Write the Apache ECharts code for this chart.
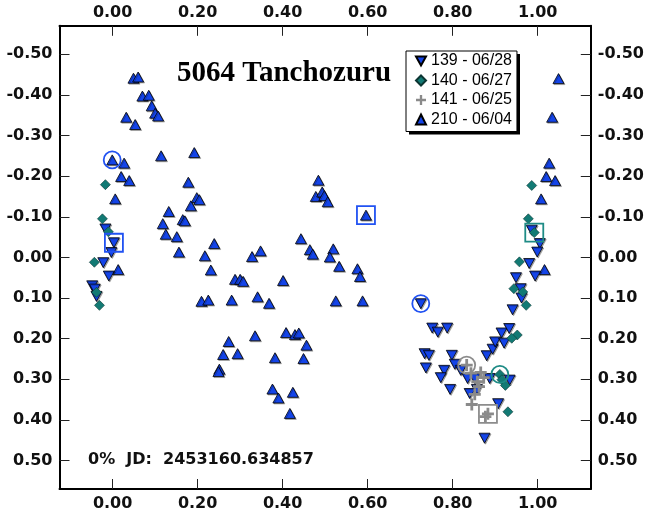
<!DOCTYPE html>
<html>
<head>
<meta charset="utf-8">
<script src="https://cdn.jsdelivr.net/npm/echarts@6/dist/echarts.min.js"></script>
<style>
  html, body { margin: 0; padding: 0; background: #ffffff; }
  #chart { width: 658px; height: 518px; }
</style>
</head>
<body>
<div id="chart"></div>
<script>
// Axis ticks (phase on x, relative magnitude on y, brighter upward)
const phaseTicks = [0.0, 0.2, 0.4, 0.6, 0.8, 1.0];
const magTicks = [-0.5, -0.4, -0.3, -0.2, -0.1, 0.0, 0.1, 0.2, 0.3, 0.4, 0.5];

// Session labels (observation session - date)
const sessionNames = ['139 - 06/28', '140 - 06/27', '141 - 06/25', '210 - 06/04'];

// Session 139 (06/28): [phase, magnitude]
const obs139 = [
  [-0.017, -0.070], [0.003, -0.036], [-0.003, -0.012], [-0.022, 0.013],
  [-0.009, 0.046], [-0.048, 0.070], [-0.042, 0.078], [-0.038, 0.096],
  [0.725, 0.114], [0.752, 0.174], [0.765, 0.184], [0.787, 0.174],
  [0.734, 0.237], [0.744, 0.241], [0.737, 0.272], [0.798, 0.241],
  [0.780, 0.278], [0.772, 0.296], [0.794, 0.325], [0.805, 0.263],
  [0.819, 0.278], [0.835, 0.298], [0.852, 0.298], [0.840, 0.335],
  [0.857, 0.325], [0.880, 0.242], [0.894, 0.226], [0.900, 0.208],
  [0.915, 0.186], [0.921, 0.211], [0.933, 0.175], [0.887, 0.298],
  [0.934, 0.302], [0.907, 0.360], [0.875, 0.445], [0.941, 0.129],
  [0.949, 0.050], [0.960, 0.077], [0.962, 0.100], [0.980, 0.015],
  [0.994, 0.046], [0.986, -0.067], [1.005, -0.034], [0.999, -0.013]
];

// Session 140 (06/27)
const obs140 = [
  [-0.017, -0.179], [-0.024, -0.095], [-0.010, -0.063], [-0.043, 0.012],
  [-0.038, 0.086], [-0.031, 0.118], [0.986, -0.177], [0.978, -0.095],
  [0.992, -0.061], [0.957, 0.011], [0.944, 0.077], [0.965, 0.085],
  [0.973, 0.118], [0.952, 0.191], [0.939, 0.199], [0.911, 0.288],
  [0.916, 0.301], [0.924, 0.315], [0.930, 0.380]
];

// Session 141 (06/25)
const obs141 = [
  [0.833, 0.265], [0.843, 0.285], [0.866, 0.283], [0.873, 0.296],
  [0.858, 0.306], [0.862, 0.318], [0.852, 0.337], [0.845, 0.362],
  [0.883, 0.385], [0.877, 0.392]
];

// Session 210 (06/04)
const obs210 = [
  [0.049, -0.441], [0.060, -0.444], [0.070, -0.397], [0.085, -0.399],
  [0.092, -0.373], [0.100, -0.355], [0.107, -0.348], [0.032, -0.345],
  [0.053, -0.327], [-0.001, -0.240], [0.027, -0.232], [0.020, -0.199],
  [0.039, -0.189], [0.006, -0.144], [0.114, -0.250], [0.192, -0.258],
  [0.178, -0.185], [0.198, -0.147], [0.204, -0.142], [0.184, -0.127],
  [0.132, -0.113], [0.118, -0.083], [0.125, -0.057], [0.151, -0.051],
  [0.165, -0.093], [0.170, -0.090], [0.156, -0.013], [0.239, -0.034],
  [0.217, -0.004], [0.328, -0.002], [0.348, -0.016], [0.443, -0.046],
  [0.464, -0.019], [0.471, -0.008], [0.484, -0.190], [0.478, -0.150],
  [0.493, -0.161], [0.498, -0.152], [0.506, -0.137], [0.596, -0.104],
  [0.519, -0.021], [0.511, -0.001], [0.533, 0.022], [0.576, 0.028],
  [0.582, 0.047], [0.013, 0.030], [0.231, 0.031], [0.288, 0.054],
  [0.300, 0.054], [0.307, 0.059], [0.401, 0.057], [0.209, 0.108],
  [0.225, 0.105], [0.280, 0.105], [0.341, 0.097], [0.368, 0.113],
  [0.525, 0.107], [0.588, 0.107], [0.273, 0.207], [0.260, 0.239],
  [0.294, 0.237], [0.251, 0.275], [0.249, 0.281], [0.335, 0.193],
  [0.408, 0.185], [0.429, 0.190], [0.438, 0.186], [0.456, 0.216],
  [0.449, 0.249], [0.382, 0.247], [0.376, 0.324], [0.390, 0.346],
  [0.424, 0.332], [0.417, 0.384],
  [1.049, -0.440], [1.034, -0.345], [1.027, -0.232], [1.020, -0.199],
  [1.041, -0.189], [1.008, -0.144], [1.016, 0.030]
];

// First (circled) and last (boxed) point of each session
const firstPoints = [
  { data: obs210[9], color: '#2152f2' },
  { data: obs139[8], color: '#2152f2' },
  { data: obs141[0], color: '#8c8c8c' },
  { data: obs140[15], color: '#1f8c86' }
];
const lastPoints = [
  { data: obs139[1], color: '#2152f2' },
  { data: obs210[39], color: '#2152f2' },
  { data: obs141[8], color: '#8c8c8c' },
  { data: obs140[8], color: '#1f8c86' }
];

const BLUE = '#1444e8';
const TEAL = '#127a74';
const GREY = '#8a8a8a';
const DOWN_TRIANGLE = 'path://M0,0L10,0L5,9Z';
const PLUS = 'path://M4.6,0H7.4V4.6H12V7.4H7.4V12H4.6V7.4H0V4.6H4.6Z';

const labelFont = { fontFamily: '"DejaVu Sans"', fontWeight: 'bold', fontSize: 16, color: '#111' };

function xAxisDef(position) {
  return {
    type: 'value', position: position, min: -0.125, max: 1.125,
    axisLine: { show: true, onZero: false, lineStyle: { color: '#000', width: 2 } },
    axisTick: { show: true, inside: true, length: 10, customValues: phaseTicks, lineStyle: { color: '#222', width: 1 } },
    axisLabel: Object.assign({ customValues: phaseTicks, margin: position === 'top' ? 5 : 7,
      formatter: v => v.toFixed(2) }, labelFont),
    splitLine: { show: false }
  };
}
function yAxisDef(position) {
  return {
    type: 'value', position: position, inverse: true, min: -0.57, max: 0.57,
    axisLine: { show: true, onZero: false, lineStyle: { color: '#000', width: 2 } },
    axisTick: { show: true, inside: true, length: 10, customValues: magTicks, lineStyle: { color: '#222', width: 1 } },
    axisLabel: Object.assign({ customValues: magTicks, margin: 7,
      formatter: v => (Math.abs(v) < 1e-9 ? 0 : v).toFixed(2) }, labelFont),
    splitLine: { show: false }
  };
}

const markerShadow = { shadowColor: 'rgba(0,0,0,0.3)', shadowOffsetX: 1, shadowOffsetY: 1, shadowBlur: 0 };

// Legend box geometry; the solid drop shadow sits just behind it
const LEGEND_LEFT = 406, LEGEND_TOP = 51, LEGEND_W = 111, LEGEND_H = 80.5;

const chart = echarts.init(document.getElementById('chart'), null, { renderer: 'canvas' });
chart.setOption({
  animation: false,
  backgroundColor: '#ffffff',
  grid: { left: 59.5, right: 67.2, top: 25.8, bottom: 29, containLabel: false },
  xAxis: [xAxisDef('bottom'), xAxisDef('top')],
  yAxis: [yAxisDef('left'), yAxisDef('right')],
  legend: {
    data: sessionNames,
    orient: 'vertical',
    left: LEGEND_LEFT, top: LEGEND_TOP,
    padding: [2, 5, 4, 9],
    itemWidth: 10, itemHeight: 10,
    itemGap: 3.5,
    itemTextGap: 9,
    backgroundColor: '#ffffff',
    borderColor: '#000', borderWidth: 1, borderRadius: 0,
    textStyle: { fontFamily: '"Liberation Sans"', fontSize: 16, lineHeight: 16, color: '#000' },
    selectedMode: false,
    z: 8
  },
  graphic: [
    { type: 'rect', z: 7, silent: true,
      shape: { x: LEGEND_LEFT + 3, y: LEGEND_TOP + 3, width: LEGEND_W, height: LEGEND_H },
      style: { fill: '#000' } },
    { type: 'text', left: 177, top: 59, z: 10,
      style: { text: '5064 Tanchozuru', font: 'bold 29px "Liberation Serif"', fill: '#000' } },
    { type: 'text', left: 88, top: 452, z: 10,
      style: { text: '0%  JD:  2453160.634857', font: 'bold 16px "DejaVu Sans"', fill: '#111' } }
  ],
  series: [
    { type: 'scatter', name: '210 - 06/04', data: obs210, symbol: 'triangle', symbolSize: [11, 10], z: 2,
      itemStyle: Object.assign({ color: BLUE, borderColor: '#000', borderWidth: 0.8, opacity: 1 }, markerShadow) },
    { type: 'scatter', name: '139 - 06/28', data: obs139, symbol: DOWN_TRIANGLE, symbolSize: [11, 10], z: 3,
      itemStyle: Object.assign({ color: BLUE, borderColor: '#000', borderWidth: 0.8, opacity: 1 }, markerShadow) },
    { type: 'scatter', name: '140 - 06/27', data: obs140, symbol: 'diamond', symbolSize: [10, 10], z: 4,
      itemStyle: { color: TEAL, borderColor: '#0c3532', borderWidth: 0.6, opacity: 1 } },
    { type: 'scatter', name: '141 - 06/25', data: obs141, symbol: PLUS, symbolSize: 12, z: 5,
      itemStyle: { color: GREY, opacity: 1 } },
    { type: 'scatter', name: 'first', z: 6, silent: true, symbol: 'circle', symbolSize: 17,
      data: firstPoints.map(p => ({ value: p.data, itemStyle: { borderColor: p.color } })),
      itemStyle: { color: 'transparent', borderWidth: 1.8, opacity: 1 } },
    { type: 'scatter', name: 'last', z: 6, silent: true, symbol: 'rect', symbolSize: 18,
      data: lastPoints.map(p => ({ value: p.data, itemStyle: { borderColor: p.color } })),
      itemStyle: { color: 'transparent', borderWidth: 1.8, opacity: 1 } }
  ]
});
</script>
</body>
</html>
